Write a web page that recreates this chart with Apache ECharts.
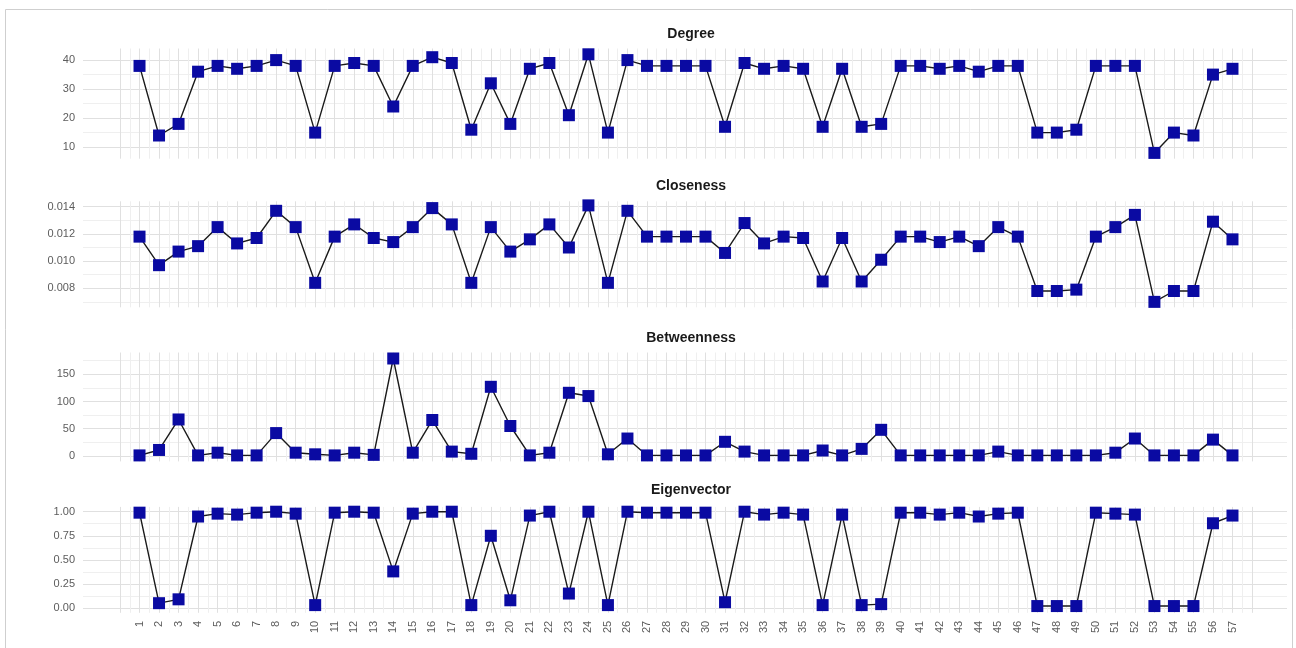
<!DOCTYPE html>
<html>
<head>
<meta charset="utf-8">
<script src="https://cdn.jsdelivr.net/npm/echarts@6/dist/echarts.min.js"></script>
<style>
  html, body { margin: 0; padding: 0; background: #ffffff; }
  #chart { width: 1296px; height: 648px; }
</style>
</head>
<body>
<div id="chart"></div>
<script>
// Node identifiers (x axis)
const nodes = ['1','2','3','4','5','6','7','8','9','10','11','12','13','14','15','16','17','18','19','20',
  '21','22','23','24','25','26','27','28','29','30','31','32','33','34','35','36','37','38','39','40',
  '41','42','43','44','45','46','47','48','49','50','51','52','53','54','55','56','57'];

// Centrality measures per node
const degree = [38,14,18,36,38,37,38,40,38,15, 38,39,38,24,38,41,39,16,32,18,
  37,39,21,42,15,40,38,38,38,38, 17,39,37,38,37,17,37,17,18,38,
  38,37,38,36,38,38,15,15,16,38, 38,38,8,15,14,35,37];

const closeness = [0.0118,0.0097,0.0107,0.0111,0.0125,0.0113,0.0117,0.0137,0.0125,0.0084,
  0.0118,0.0127,0.0117,0.0114,0.0125,0.0139,0.0127,0.0084,0.0125,0.0107,
  0.0116,0.0127,0.0110,0.0141,0.0084,0.0137,0.0118,0.0118,0.0118,0.0118,
  0.0106,0.0128,0.0113,0.0118,0.0117,0.0085,0.0117,0.0085,0.0101,0.0118,
  0.0118,0.0114,0.0118,0.0111,0.0125,0.0118,0.0078,0.0078,0.0079,0.0118,
  0.0125,0.0134,0.0070,0.0078,0.0078,0.0129,0.0116];

const betweenness = [1,11,67,1,6,1,1,42,6,3, 1,6,2,179,6,66,8,4,127,55,
  1,6,116,110,3,32,1,1,1,1, 26,8,1,1,1,10,1,13,48,1,
  1,1,1,1,8,1,1,1,1,1, 6,32,1,1,1,30,1];

const eigenvector = [0.99,0.05,0.09,0.95,0.98,0.97,0.99,1.00,0.98,0.03,
  0.99,1.00,0.99,0.38,0.98,1.00,1.00,0.03,0.75,0.08,
  0.96,1.00,0.15,1.00,0.03,1.00,0.99,0.99,0.99,0.99,
  0.06,1.00,0.97,0.99,0.97,0.03,0.97,0.03,0.04,0.99,
  0.99,0.97,0.99,0.95,0.98,0.99,0.02,0.02,0.02,0.99,
  0.98,0.97,0.02,0.02,0.02,0.88,0.96];

// Panel titles and y tick labels
const panelTitles = ['Degree', 'Closeness', 'Betweenness', 'Eigenvector'];
const degreeTicks = [10, 20, 30, 40];
const closenessTicks = [0.008, 0.010, 0.012, 0.014];
const betweennessTicks = [0, 50, 100, 150];
const eigenvectorTicks = [0, 0.25, 0.50, 0.75, 1.00];

// Layout of the four stacked panels
const panels = [
  { title: panelTitles[0], values: degree,      ticks: degreeTicks,      digits: 0, min: 6,      max: 44,     step: 1,      top: 48.5,  height: 110.2, titleTop: 22 },
  { title: panelTitles[1], values: closeness,   ticks: closenessTicks,   digits: 3, min: 0.0066, max: 0.0144, step: 0.0002, top: 201.3, height: 106.0, titleTop: 174 },
  { title: panelTitles[2], values: betweenness, ticks: betweennessTicks, digits: 0, min: -10,    max: 190,    step: 5,      top: 352.5, height: 108.9, titleTop: 326 },
  { title: panelTitles[3], values: eigenvector, ticks: eigenvectorTicks, digits: 2, min: -0.05,  max: 1.05,   step: 0.025,  top: 506.9, height: 105.9, titleTop: 478.5 }
];

const FONT = "'Liberation Sans', Arial, Helvetica, sans-serif";
const MAJOR = '#e0e0e0';
const MINOR = '#efefef';
const NONE = 'rgba(255,255,255,0)';
const H_LEFT = 83, H_WIDTH = 1204;         // horizontal grid lines span
const X_MIN = 0, X_MAX = 58;               // node axis range
const V_LEFT = 120, V_WIDTH = 1132;        // node axis span

// Colour for each split line: major ticks, midpoints between them, nothing otherwise
function splitColors(p) {
  const minorStep = (p.ticks[1] - p.ticks[0]) / 2;
  const n = Math.round((p.max - p.min) / p.step);
  const cols = [];
  for (let i = 0; i <= n; i++) {
    const v = p.min + i * p.step;
    const isMajor = p.ticks.some(t => Math.abs(t - v) < p.step * 1e-3);
    const k = (v - p.ticks[0]) / minorStep;
    const isMinor = Math.abs(k - Math.round(k)) < 1e-3;
    cols.push(isMajor ? MAJOR : (isMinor ? MINOR : NONE));
  }
  return cols;
}

function tickLabel(p, v) {
  const hit = p.ticks.find(t => Math.abs(t - v) < p.step * 1e-3);
  return hit === undefined ? '' : hit.toFixed(p.digits);
}

const grid = [], xAxis = [], yAxis = [], series = [], title = [];
panels.forEach((p, k) => {
  const last = k === panels.length - 1;
  // grid carrying the y labels and horizontal lines
  grid.push({ left: H_LEFT, width: H_WIDTH, top: p.top, height: p.height, containLabel: false });
  // grid carrying the node axis, vertical lines and the series
  grid.push({ left: V_LEFT, width: V_WIDTH, top: p.top, height: p.height, containLabel: false });
  const gH = 2 * k, gV = 2 * k + 1;

  xAxis.push({ gridIndex: gH, type: 'value', min: 0, max: 1, show: false });
  xAxis.push({
    gridIndex: gV, type: 'value', min: X_MIN, max: X_MAX, interval: 0.5,
    axisLine: { show: false }, axisTick: { show: false },
    splitLine: { show: true, lineStyle: { color: [MAJOR, MINOR], width: 1 } },
    axisLabel: {
      show: last, rotate: 90, margin: 8, fontSize: 11, color: '#5c5c5c', fontFamily: FONT,
      hideOverlap: false,
      formatter: v => {
        const r = Math.round(v);
        return (Math.abs(v - r) < 1e-6 && r >= 1 && r <= nodes.length) ? nodes[r - 1] : '';
      }
    }
  });

  yAxis.push({
    gridIndex: gH, type: 'value', min: p.min, max: p.max, interval: p.step,
    axisLine: { show: false }, axisTick: { show: false },
    splitLine: { show: true, lineStyle: { color: splitColors(p), width: 1 } },
    axisLabel: {
      margin: 8, fontSize: 11, color: '#5c5c5c', fontFamily: FONT, hideOverlap: false,
      formatter: v => tickLabel(p, v)
    }
  });
  yAxis.push({ gridIndex: gV, type: 'value', min: p.min, max: p.max, show: false });

  series.push({
    type: 'line', xAxisIndex: gV, yAxisIndex: gV,
    data: p.values.map((v, i) => [Number(nodes[i]), v]),
    symbol: 'rect', symbolSize: 12, showAllSymbol: true,
    itemStyle: { color: '#0a0aa2' },
    lineStyle: { color: '#1a1a1a', width: 1.4 },
    emphasis: { disabled: true },
    animation: false
  });

  title.push({
    text: p.title, left: 686, top: p.titleTop, textAlign: 'center',
    textStyle: { fontSize: 14, fontWeight: 'bold', color: '#1a1a1a', fontFamily: FONT }
  });
});

const chart = echarts.init(document.getElementById('chart'), null, { renderer: 'canvas' });
chart.setOption({
  backgroundColor: '#ffffff',
  animation: false,
  title, grid, xAxis, yAxis, series,
  graphic: [{
    type: 'rect', silent: true, z: -10,
    shape: { x: 5.5, y: 9.5, width: 1287, height: 700 },
    style: { fill: 'none', stroke: '#cfcfcf', lineWidth: 1 }
  }]
});
</script>
</body>
</html>
